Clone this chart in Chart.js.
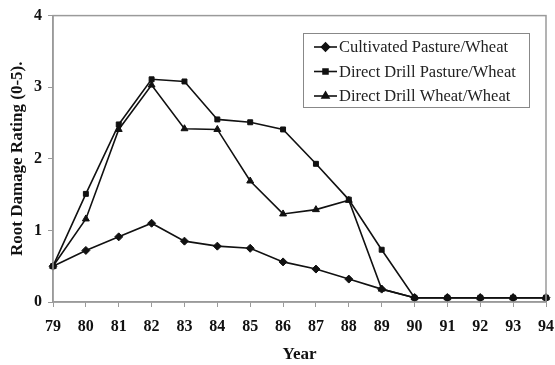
<!DOCTYPE html>
<html>
<head>
<meta charset="utf-8">
<script src="https://cdn.jsdelivr.net/npm/chart.js@4"></script>
<style>
  html, body { margin: 0; padding: 0; background: #fff; }
  #wrap { width: 555px; height: 365px; }
</style>
</head>
<body>
<div id="wrap"><canvas id="chart" width="555" height="365"></canvas></div>
<script>
const years = ['79', '80', '81', '82', '83', '84', '85', '86', '87', '88', '89', '90', '91', '92', '93', '94'];
const cultivatedPasture = [0.5, 0.72, 0.91, 1.1, 0.85, 0.78, 0.75, 0.56, 0.46, 0.32, 0.18, 0.06, 0.06, 0.06, 0.06, 0.06];
const directPasture = [0.5, 1.51, 2.48, 3.11, 3.08, 2.55, 2.51, 2.41, 1.93, 1.43, 0.73, 0.06, 0.06, 0.06, 0.06, 0.06];
const directWheat = [0.5, 1.16, 2.41, 3.03, 2.42, 2.41, 1.69, 1.23, 1.29, 1.42, 0.18, 0.06, 0.06, 0.06, 0.06, 0.06];
const yTicks = [0, 1, 2, 3, 4];

const serif = '"Liberation Serif", "Times New Roman", serif';
const axisGrey = '#9a9a9a';

function series(label, data, style) {
    return {
        label: label,
        data: data,
        borderColor: '#111',
        backgroundColor: '#111',
        borderWidth: 1.6,
        pointStyle: style,
        pointRadius: style === 'rect' ? 3.5 : 4,
        pointBorderWidth: 1,
        tension: 0
    };
}

// frame round the plot plus a boxed legend inside the plot
const framePlugin = {
    id: 'frame',
    afterDraw(chart) {
        const ctx = chart.ctx;
        const a = chart.chartArea;
        ctx.save();
        ctx.strokeStyle = axisGrey;
        ctx.lineWidth = 1.5;
        ctx.strokeRect(a.left, a.top, a.right - a.left, a.bottom - a.top);

        const bx = 303, by = 33, bw = 226, bh = 74;
        ctx.lineWidth = 1;
        ctx.strokeStyle = '#888';
        ctx.strokeRect(bx + 0.5, by + 0.5, bw, bh);
        ctx.font = '16.5px ' + serif;
        ctx.textBaseline = 'middle';
        chart.data.datasets.forEach((ds, i) => {
            const y = by + 14 + i * 24.5;
            ctx.strokeStyle = '#111';
            ctx.lineWidth = 1.6;
            ctx.beginPath();
            ctx.moveTo(bx + 11, y);
            ctx.lineTo(bx + 34, y);
            ctx.stroke();
            ctx.fillStyle = '#111';
            Chart.helpers.drawPoint(ctx, {
                pointStyle: ds.pointStyle,
                radius: ds.pointRadius,
                borderWidth: 1,
                rotation: 0
            }, bx + 22.5, y);
            ctx.fillStyle = '#222';
            ctx.fillText(ds.label, bx + 36, y + 1);
        });
        ctx.restore();
    }
};

new Chart(document.getElementById('chart'), {
    type: 'line',
    data: {
        labels: years,
        datasets: [
            series('Cultivated Pasture/Wheat', cultivatedPasture, 'rectRot'),
            series('Direct Drill Pasture/Wheat', directPasture, 'rect'),
            series('Direct Drill Wheat/Wheat', directWheat, 'triangle')
        ]
    },
    options: {
        responsive: false,
        animation: false,
        layout: { padding: { top: 14, right: 9, left: 0, bottom: 0 } },
        plugins: {
            legend: { display: false },
            tooltip: { enabled: false }
        },
        scales: {
            x: {
                offset: false,
                grid: { display: true, drawOnChartArea: false, drawTicks: true, tickLength: 5, color: axisGrey },
                border: { color: axisGrey, width: 1.5 },
                ticks: {
                    color: '#111',
                    padding: 10,
                    maxRotation: 0,
                    autoSkip: false,
                    font: { family: serif, size: 16, weight: 'bold' }
                },
                title: {
                    display: true,
                    text: 'Year',
                    color: '#111',
                    padding: { top: 8, bottom: 0 },
                    font: { family: serif, size: 17, weight: 'bold' }
                },
                afterFit(scale) {
                    scale.height = 63;
                    scale.paddingRight = 0;
                    scale.paddingLeft = 0;
                }
            },
            y: {
                min: 0,
                max: 4,
                afterBuildTicks(scale) { scale.ticks = yTicks.map(v => ({ value: v })); },
                grid: { display: true, drawOnChartArea: false, drawTicks: true, tickLength: 5, color: axisGrey },
                border: { color: axisGrey, width: 1.5 },
                ticks: {
                    color: '#111',
                    padding: 6,
                    font: { family: serif, size: 16, weight: 'bold' }
                },
                title: {
                    display: true,
                    text: 'Root Damage Rating (0-5).',
                    color: '#111',
                    padding: { top: 7, bottom: 4 },
                    font: { family: serif, size: 17, weight: 'bold' }
                },
                afterFit(scale) { scale.width = 53; }
            }
        }
    },
    plugins: [framePlugin]
});
</script>
</body>
</html>
